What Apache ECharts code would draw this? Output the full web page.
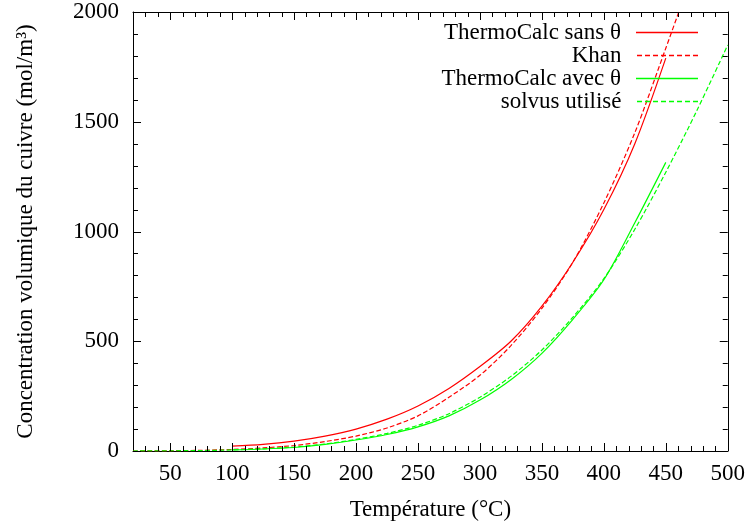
<!DOCTYPE html>
<html><head><meta charset="utf-8">
<script src="https://cdn.jsdelivr.net/npm/echarts@6/dist/echarts.min.js"></script>
<style>html,body{margin:0;padding:0;background:#fff}#c{width:748px;height:527px}</style>
</head><body><div id="c"></div>
<script>
// Data (temperature °C, concentration mol/m3)
const sansThetaT = [100,125,150,175,200,225,250,275,300,325,350,375,400,425,450];
const sansThetaV = [22,30,45,68,100,145,205,285,385,500,660,860,1100,1400,1790];
const khanT = [20,50,75,100,125,150,175,200,225,250,275,300,325,350,375,400,425,450,460.5];
const khanV = [0,1,3,7,14,25,43,68,105,160,245,345,480,650,860,1130,1450,1835,2000];
const avecThetaT = [100,125,150,175,200,225,250,275,300,325,350,375,400,425,450];
const avecThetaV = [5,9,16,30,50,75,110,160,232,325,445,600,780,1040,1315];
const solvusT = [20,50,75,100,125,150,175,200,225,250,275,300,325,350,375,400,425,450,475,500];
const solvusV = [0,1,2,5,10,18,32,53,80,117,170,245,340,460,610,785,1010,1270,1550,1850];
const xMajorTicks = [50,100,150,200,250,300,350,400,450,500];
const xMinorTicks = [30,40,60,70,80,90,110,120,130,140,160,170,180,190,210,220,230,240,260,270,280,290,310,320,330,340,360,370,380,390,410,420,430,440,460,470,480,490];
const yMajorTicks = [0,500,1000,1500,2000];
const yMinorTicks = [100,200,300,400,600,700,800,900,1100,1200,1300,1400,1600,1700,1800,1900];
const seriesNames = ['ThermoCalc sans θ','Khan','ThermoCalc avec θ','solvus utilisé'];

const zip = (a,b) => a.map((t,i)=>[t,b[i]]);
const font = 'Liberation Serif';
const FS = 23;
const X0 = 20, X1 = 500, Y0 = 0, Y1 = 2000;
const chart = echarts.init(document.getElementById('c'));
function xAx(pos, labels){
  return {type:'value', position:pos, min:X0, max:X1,
    axisLine:{show:true, onZero:false, lineStyle:{color:'#000', width:1}},
    axisTick:{show:false},
    axisLabel:{show:labels, customValues:xMajorTicks, color:'#000', fontFamily:font, fontSize:FS, margin:11},
    splitLine:{show:false}};
}
function yAx(pos, labels){
  return {type:'value', position:pos, min:Y0, max:Y1, interval:500,
    axisLine:{show:true, onZero:false, lineStyle:{color:'#000', width:1}},
    axisTick:{show:false}, minorTick:{show:false},
    axisLabel:{show:labels, color:'#000', fontFamily:font, fontSize:FS, margin:14, formatter:v=>String(v)},
    splitLine:{show:false}, minorSplitLine:{show:false}};
}
const xs = [xAx('bottom', true), xAx('top', false)];
xs[0].name = 'Température (°C)';
xs[0].nameLocation = 'middle';
xs[0].nameGap = 47;
xs[0].nameTextStyle = {color:'#000', fontFamily:font, fontSize:FS};
const ys = [yAx('left', true), yAx('right', false)];
ys[0].name = 'Concentration volumique du cuivre (mol/m³)';
ys[0].nameLocation = 'middle';
ys[0].nameGap = 96;
ys[0].nameTextStyle = {color:'#000', fontFamily:font, fontSize:FS};

const colors = ['#ff0000','#ff0000','#00ff00','#00ff00'];
const types = ['solid','dashed','solid','dashed'];
const solidIcon = 'path://M0,0H62V1.5H0Z';
const dashedIcon = 'path://M0,0H5V1.5H0Z M8,0H13V1.5H8Z M16,0H21V1.5H16Z M24,0H29V1.5H24Z M32,0H37V1.5H32Z M40,0H45V1.5H40Z M48,0H53V1.5H48Z M56,0H61V1.5H56Z';
const icons = [solidIcon, dashedIcon, solidIcon, dashedIcon];
const datas = [zip(sansThetaT,sansThetaV), zip(khanT,khanV), zip(avecThetaT,avecThetaV), zip(solvusT,solvusV)];
const series = seriesNames.map((n,i)=>({
  name:n, type:'line', data:datas[i], showSymbol:false, symbol:'none', smooth:0.3,
  xAxisIndex:0, yAxisIndex:0, clip:true, animation:false,
  lineStyle:{color:colors[i], width:1.2, type:types[i]},
  itemStyle:{color:colors[i]}
}));
// inward, mirrored axis ticks drawn through the axis scales
const TC = '#000', TW = 1;
function tickSeries(values, isX, len){
  return {type:'custom', name:'ticks', silent:true, animation:false, clip:false, z:5,
    coordinateSystem:'cartesian2d', xAxisIndex:0, yAxisIndex:0,
    data: values.map(v=>[v]),
    renderItem:(params, api)=>{
      const v = api.value(0);
      let a, b;
      if (isX){ a = api.coord([v, Y0]); b = api.coord([v, Y1]);
        const px = Math.round(a[0]) + 0.5;
        return {type:'group', children:[
          {type:'line', shape:{x1:px, y1:a[1], x2:px, y2:a[1]-len}, style:{stroke:TC, lineWidth:TW}},
          {type:'line', shape:{x1:px, y1:b[1], x2:px, y2:b[1]+len}, style:{stroke:TC, lineWidth:TW}}]};
      } else { a = api.coord([X0, v]); b = api.coord([X1, v]);
        const py = Math.round(a[1]) + 0.5;
        return {type:'group', children:[
          {type:'line', shape:{x1:a[0], y1:py, x2:a[0]+len, y2:py}, style:{stroke:TC, lineWidth:TW}},
          {type:'line', shape:{x1:b[0], y1:py, x2:b[0]-len, y2:py}, style:{stroke:TC, lineWidth:TW}}]};
      }
    }};
}
series.push(tickSeries(xMajorTicks, true, 8), tickSeries(xMinorTicks, true, 5),
            tickSeries(yMajorTicks, false, 8), tickSeries(yMinorTicks, false, 5));
const legendTops = [21,44,67,90];
const legends = seriesNames.map((n,i)=>({
  data:[{name:n, icon:icons[i]}], right:50, top:legendTops[i], align:'right', itemWidth:62, itemHeight:1.5,
  selectedMode:false,
  itemStyle:{color:colors[i], borderWidth:0},
  textStyle:{color:'#000', fontFamily:font, fontSize:FS, padding:[0,10,0,0]},
  padding:0
}));
chart.setOption({
  animation:false,
  backgroundColor:'#fff',
  grid:{left:133, right:20, top:12, bottom:76},
  xAxis: xs, yAxis: ys, legend: legends, series
});
</script></body></html>
